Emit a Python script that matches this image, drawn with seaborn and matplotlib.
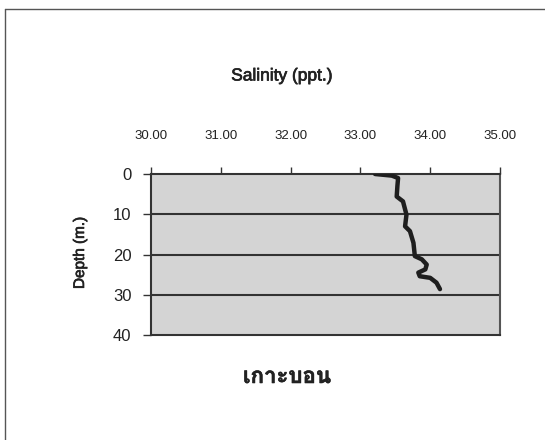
import numpy as np
import pandas as pd
import seaborn as sns
import matplotlib
matplotlib.use("Agg")
import matplotlib.pyplot as plt
import matplotlib.patheffects as pe
from matplotlib import font_manager
from matplotlib.ft2font import FT2Font

# ---- data ----
depth = [0, 0.4, 1.0, 3.0, 5.6, 6.8, 10.1, 13.0, 14.2, 17.1, 20.4, 21.2,
         22.5, 23.7, 24.5, 25.4, 25.8, 27.0, 28.6]
salinity = [33.21, 33.45, 33.54, 33.53, 33.52, 33.61, 33.66, 33.64, 33.71,
            33.76, 33.78, 33.88, 33.95, 33.93, 33.83, 33.85, 34.00, 34.09, 34.14]
x_ticks = [30, 31, 32, 33, 34, 35]
x_ticklabels = ["30.00", "31.00", "32.00", "33.00", "34.00", "35.00"]
y_ticks = [0, 10, 20, 30, 40]
title_text = "เกาะบอน"
x_label = "Salinity (ppt.)"
y_label = "Depth (m.)"

df = pd.DataFrame({"Depth": depth, "Salinity": salinity})

sns.set_theme(style="white")
plt.rcParams["font.family"] = ["Liberation Sans", "DejaVu Sans"]

# find an upright font with Thai glyphs (deterministic choice)
found = []
for path in sorted(font_manager.findSystemFonts()):
    try:
        f = FT2Font(path)
        cm = f.get_charmap()
        if 0x0E40 in cm and 0x0E01 in cm:
            found.append((f.family_name, f.style_name, path))
    except Exception:
        pass

pref_fams = ["Noto Sans Thai Looped", "Loma", "Garuda", "Waree", "Umpush",
             "Noto Sans Thai", "Tlwg Typo", "Sawasdee", "Kinnari", "Norasi"]

def score(item):
    fam, sty, path = item
    s = sty.lower()
    sc = 0
    if "italic" in s or "oblique" in s:
        sc += 1000
    if s != "bold":
        sc += 100 if "bold" not in s else 50
    sc += pref_fams.index(fam) if fam in pref_fams else 50
    return (sc, fam, path)

thai_font = None
thai_bold = False
if found:
    found.sort(key=score)
    thai_font = found[0][2]
    thai_bold = found[0][1].lower() == "bold"

fig = plt.figure(figsize=(5.45, 4.4), dpi=100)
ax = fig.add_axes([151 / 545, 1 - 335 / 440, (500 - 151) / 545, (335 - 174) / 440])
ax.set_facecolor("#d4d4d4")

for yv in [10, 20, 30]:
    ax.axhline(yv, color="#333333", lw=1.5, zorder=1)

sns.lineplot(data=df, x="Salinity", y="Depth", sort=False, estimator=None,
             color="#1e1e1e", lw=3.2, ax=ax, zorder=3)

ax.set_xlim(30, 35)
ax.set_ylim(40, 0)
ax.xaxis.tick_top()
ax.set_xticks(x_ticks)
ax.set_xticklabels(x_ticklabels, fontsize=9.5, color="#222222")
ax.set_yticks(y_ticks)
ax.set_yticklabels([str(v) for v in y_ticks], fontsize=12, color="#222222")
ax.tick_params(axis="x", which="both", top=True, bottom=False, length=5,
               width=1, color="#333333", pad=18)
ax.tick_params(axis="y", left=True, length=6, width=1, color="#333333", pad=8)
ax.set_xlabel("")
ax.set_ylabel("")
for side in ["left", "top", "bottom"]:
    ax.spines[side].set_color("#333333")
    ax.spines[side].set_linewidth(1.5)
ax.spines["right"].set_color("#555555")
ax.spines["right"].set_linewidth(1.5)

heavy = [pe.withStroke(linewidth=0.5, foreground="#222222")]
fig.text(282 / 545, 1 - 76 / 440, x_label, ha="center", va="center",
         fontsize=12.5, color="#222222", path_effects=heavy)
fig.text(80 / 545, 1 - 253 / 440, y_label, ha="center", va="center",
         rotation=90, fontsize=11, color="#222222", path_effects=heavy)
title_effects = [pe.withStroke(linewidth=0.4 if thai_bold else 1.3,
                               foreground="#222222")]
if thai_font:
    fp = font_manager.FontProperties(fname=thai_font, size=16)
    fig.text(287 / 545, 1 - 377 / 440, title_text, ha="center", va="center",
             fontproperties=fp, color="#222222", path_effects=title_effects)
else:
    fig.text(287 / 545, 1 - 377 / 440, title_text, ha="center", va="center",
             fontsize=16, fontweight="bold", color="#222222")

# page frame lines (left and top)
fig.add_artist(plt.Line2D([5 / 545, 5 / 545], [0, 1 - 9 / 440],
                          transform=fig.transFigure, color="#555555", lw=1))
fig.add_artist(plt.Line2D([5 / 545, 1], [1 - 9 / 440, 1 - 9 / 440],
                          transform=fig.transFigure, color="#555555", lw=1))

fig.savefig("out.png", dpi=100)
